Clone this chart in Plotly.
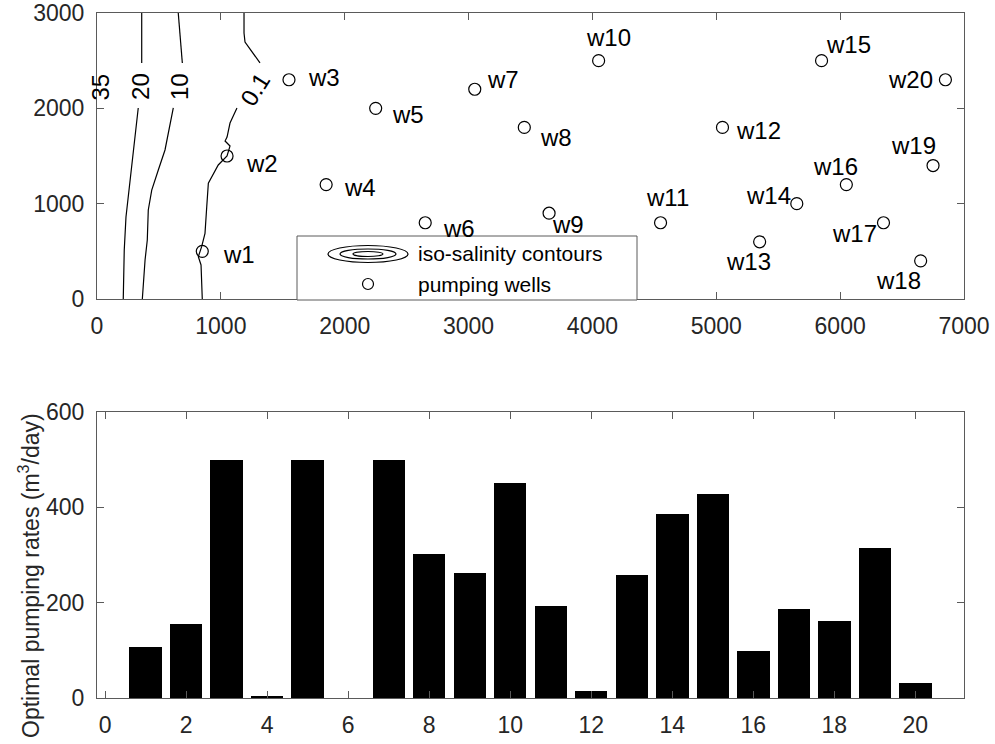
import plotly.graph_objects as go

W, H = 995, 744

# ---------------- data ----------------
well_names = [f"w{i}" for i in range(1, 21)]
well_x = [850, 1050, 1550, 1850, 2250, 2650, 3050, 3450, 3650, 4050,
          4550, 5050, 5350, 5650, 5850, 6050, 6350, 6650, 6750, 6850]
well_y = [500, 1500, 2300, 1200, 2000, 800, 2200, 1800, 900, 2500,
          800, 1800, 600, 1000, 2500, 1200, 800, 400, 1400, 2300]

well_ids = list(range(1, 21))
pumping_rates = [107, 156, 500, 4, 500, 0, 500, 302, 263, 451,
                 192, 15, 258, 386, 428, 98, 187, 161, 314, 31]

# iso-salinity contour polylines (None = break at label)
contour_20_x = [361, 361, None, 333, 293, 266, 234, 220, 212]
contour_20_y = [3000, 2476, None, 2004, 1563, 1217, 860, 514, 0]
contour_10_x = [656, 689, None, 616, 576, 549, 495, 442, 414, 406, 388, 366]
contour_10_y = [3000, 2476, None, 2004, 1741, 1563, 1353, 1143, 934, 619, 409, 0]
contour_01_x = [1187, 1187, 1195, 1316, None, 1130, 1074, 1050, 1034, 1074, 1050,
                979, 899, 886, 872, 845, 818, 840, 850]
contour_01_y = [3000, 2790, 2696, 2476, None, 2004, 1846, 1699, 1657, 1605, 1500,
                1406, 1214, 968, 689, 549, 444, 357, 0]

contour_labels = ["35", "20", "10", "0.1"]
contour_label_x = [30, 356, 672, 1277]
contour_label_y = [2225, 2225, 2225, 2193]

x_ticks_top = [0, 1000, 2000, 3000, 4000, 5000, 6000, 7000]
y_ticks_top = [0, 1000, 2000, 3000]
x_ticks_bot = [0, 2, 4, 6, 8, 10, 12, 14, 16, 18, 20]
y_ticks_bot = [0, 200, 400, 600]

# ---------------- styles ----------------
FONT = "Liberation Sans, Arial, sans-serif"
AX = "#5a5a5a"
TXT = "#262626"

label_shift = [(37, -3), (35, -7), (35, 2), (34, -3), (32, -6), (34, -6), (28, 10),
               (32, -10), (19, -11), (10, 23), (7, 25), (36, -3), (-11, -20), (-28, 8),
               (27, 16), (-11, 18), (-29, -11), (-22, -20), (-20, 20), (-35, 0)]
contour_label_angle = [-90, -90, -90, -58]


def px(x):
    return x / W


def py(y):
    return 1 - y / H


fig = go.Figure()

for cx, cy in [(contour_20_x, contour_20_y), (contour_10_x, contour_10_y),
               (contour_01_x, contour_01_y)]:
    fig.add_trace(go.Scatter(x=cx, y=cy, mode="lines", connectgaps=False,
                             line=dict(color="black", width=1.2),
                             xaxis="x", yaxis="y", showlegend=False, hoverinfo="skip"))

fig.add_trace(go.Scatter(x=well_x, y=well_y, mode="markers", text=well_names,
                         marker=dict(symbol="circle-open", size=12, color="black",
                                     line=dict(width=1.2, color="black")),
                         xaxis="x", yaxis="y", showlegend=False))

fig.add_trace(go.Bar(x=well_ids, y=pumping_rates, width=0.8,
                     marker=dict(color="black", line=dict(width=0)),
                     xaxis="x2", yaxis="y2", showlegend=False))

annotations = []
for name, x, y, (dx, dy) in zip(well_names, well_x, well_y, label_shift):
    annotations.append(dict(x=x, y=y, xref="x", yref="y", text=name, showarrow=False,
                            xanchor="center", yanchor="middle",
                            xshift=dx, yshift=dy, font=dict(family=FONT, size=24, color="black")))
for t, x, y, a in zip(contour_labels, contour_label_x, contour_label_y, contour_label_angle):
    annotations.append(dict(x=x, y=y, xref="x", yref="y", text=t, showarrow=False,
                            xanchor="center", yanchor="middle",
                            textangle=a, font=dict(family=FONT, size=24, color="black")))

# legend
annotations.append(dict(x=px(416), y=py(254), xref="paper", yref="paper", xanchor="left",
                        yanchor="middle", text="iso-salinity contours", showarrow=False,
                        font=dict(family=FONT, size=21, color="black")))
annotations.append(dict(x=px(416), y=py(284), xref="paper", yref="paper", xanchor="left",
                        yanchor="middle", text="pumping wells", showarrow=False,
                        font=dict(family=FONT, size=21, color="black")))
# bottom y-axis title
annotations.append(dict(x=px(29), y=py(576), xref="paper", yref="paper",
                        xanchor="center", yanchor="middle",
                        text="Optimal pumping rates (m<sup>3</sup>/day)", textangle=-90,
                        showarrow=False, font=dict(family=FONT, size=23, color=TXT)))

shapes = [
    dict(type="rect", xref="paper", yref="paper", x0=px(297), x1=px(637), y0=py(300), y1=py(236),
         line=dict(color=AX, width=1), fillcolor="white", layer="above"),
]
for (w_, h_) in [(80, 17), (56, 10), (30, 5)]:
    shapes.append(dict(type="circle", xref="paper", yref="paper",
                       x0=px(368 - w_ / 2), x1=px(368 + w_ / 2),
                       y0=py(254 + h_ / 2), y1=py(254 - h_ / 2),
                       line=dict(color="black", width=1.2), layer="above"))
shapes.append(dict(type="circle", xref="paper", yref="paper",
                   x0=px(368 - 5.5), x1=px(368 + 5.5), y0=py(284 + 5.5), y1=py(284 - 5.5),
                   line=dict(color="black", width=1.2), layer="above"))

axis_common = dict(showline=True, linecolor=AX, linewidth=1, mirror="ticks",
                   ticks="inside", ticklen=7, tickwidth=1, tickcolor=AX,
                   showgrid=False, zeroline=False, automargin=False,
                   tickfont=dict(family=FONT, size=23, color=TXT))

fig.update_layout(
    width=W, height=H,
    margin=dict(l=0, r=0, t=0, b=0, autoexpand=False),
    paper_bgcolor="white", plot_bgcolor="white",
    xaxis=dict(domain=[px(97), px(964)], range=[0, 7000], tickvals=x_ticks_top,
               anchor="y", ticklabelstandoff=6, **axis_common),
    yaxis=dict(domain=[py(299), py(13)], range=[0, 3000], tickvals=y_ticks_top,
               anchor="x", ticklabelstandoff=7, **axis_common),
    xaxis2=dict(domain=[px(97), px(964)], range=[-0.2, 21.2], tickvals=x_ticks_bot,
                anchor="y2", ticklabelstandoff=6, **axis_common),
    yaxis2=dict(domain=[py(698), py(412)], range=[0, 600], tickvals=y_ticks_bot,
                anchor="x2", ticklabelstandoff=7, **axis_common),
    annotations=annotations,
    shapes=shapes,
    bargap=0,
)

fig.write_html("out.html")
